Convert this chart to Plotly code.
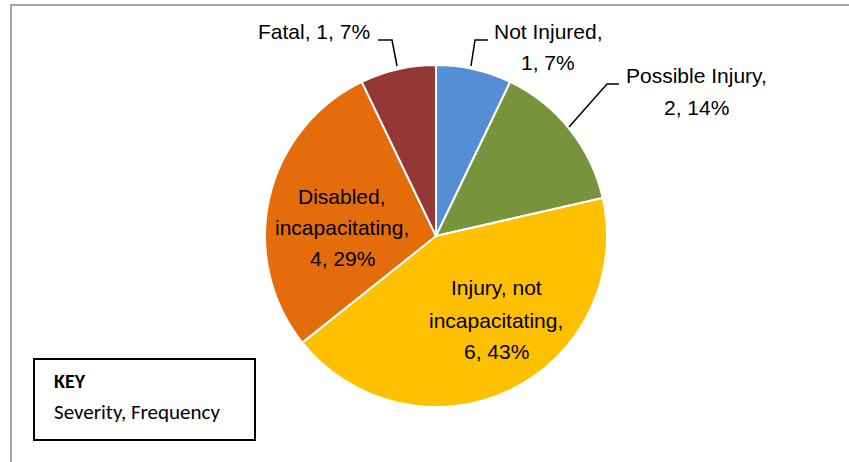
import plotly.graph_objects as go

W, H = 849, 462

categories = ["Not Injured", "Possible Injury", "Injury, not incapacitating",
              "Disabled, incapacitating", "Fatal"]
frequency = [1, 2, 6, 4, 1]
colors = ["#558ED5", "#77933C", "#FFC000", "#E46C0A", "#953735"]

# label text lines (severity, frequency, percent)
total = sum(frequency)
pct = [round(100 * v / total) for v in frequency]
label_lines = {
    "Not Injured": ["Not Injured,", f"{frequency[0]}, {pct[0]}%"],
    "Possible Injury": ["Possible Injury,", f"{frequency[1]}, {pct[1]}%"],
    "Injury, not incapacitating": ["Injury, not", "incapacitating,", f"{frequency[2]}, {pct[2]}%"],
    "Disabled, incapacitating": ["Disabled,", "incapacitating,", f"{frequency[3]}, {pct[3]}%"],
    "Fatal": [f"Fatal, {frequency[4]}, {pct[4]}%"],
}
# label line centers in pixels (layout only): x, list of y per line
label_pos = {
    "Not Injured": (548, [31, 63]),
    "Possible Injury": (696, [75, 108]),
    "Injury, not incapacitating": (496, [287, 320, 351]),
    "Disabled, incapacitating": (342, [196, 228, 258]),
    "Fatal": (314, [31]),
}

def px(x):
    return x / W

def py(y):
    return 1 - y / H

cx, cy, r = 436, 236, 171

fig = go.Figure()
fig.add_trace(go.Pie(
    labels=categories,
    values=frequency,
    sort=False,
    direction="clockwise",
    rotation=0,
    marker=dict(colors=colors, line=dict(color="white", width=2)),
    textinfo="none",
    hoverinfo="label+value+percent",
    showlegend=False,
    domain=dict(x=[px(cx - r), px(cx + r)], y=[py(cy + r), py(cy - r)]),
))

font_lbl = dict(family="Liberation Sans Narrow, Arial Narrow, Liberation Sans, Arial", size=21, color="#000000")
for cat in categories:
    x, ys = label_pos[cat]
    for line, y in zip(label_lines[cat], ys):
        fig.add_annotation(
            x=px(x), y=py(y), xref="paper", yref="paper",
            text=line,
            showarrow=False, xanchor="center", yanchor="middle",
            align="center", font=font_lbl,
        )

shapes = []
def seg(pts, color="#000000", width=1.5):
    path = "M " + " L ".join(f"{px(a)},{py(b)}" for a, b in pts)
    shapes.append(dict(type="path", path=path, xref="paper", yref="paper",
                       line=dict(color=color, width=width)))

# leader lines
seg([(378, 40), (392, 40), (397, 66)])
seg([(488, 40), (475, 40), (471, 66)])
seg([(619, 84), (607, 84), (569, 127)])

# chart border (top and left)
shapes.append(dict(type="line", xref="paper", yref="paper", x0=px(10), x1=1.01, y0=py(5), y1=py(5),
                   line=dict(color="#A6A6A6", width=2)))
shapes.append(dict(type="line", xref="paper", yref="paper", x0=px(11), x1=px(11), y0=py(5), y1=-0.01,
                   line=dict(color="#A6A6A6", width=2)))
# key box
shapes.append(dict(type="rect", xref="paper", yref="paper", x0=px(34), x1=px(255), y0=py(359), y1=py(440),
                   line=dict(color="#000000", width=2), fillcolor="white"))
fig.update_layout(shapes=shapes)

key_font = "Carlito, Calibri, Open Sans, Lato, sans-serif"
fig.add_annotation(x=px(52), y=py(381), xref="paper", yref="paper", text="<b>KEY</b>",
                   showarrow=False, xanchor="left", yanchor="middle",
                   font=dict(family=key_font, size=20, color="#000000"))
fig.add_annotation(x=px(52), y=py(412), xref="paper", yref="paper", text="Severity, Frequency",
                   showarrow=False, xanchor="left", yanchor="middle",
                   font=dict(family=key_font, size=21, color="#000000"))

fig.update_layout(
    width=W, height=H,
    margin=dict(l=0, r=0, t=0, b=0),
    paper_bgcolor="white",
    plot_bgcolor="white",
)

fig.write_html("out.html", config={"displayModeBar": False},
               post_script="document.body.style.margin='0';")
